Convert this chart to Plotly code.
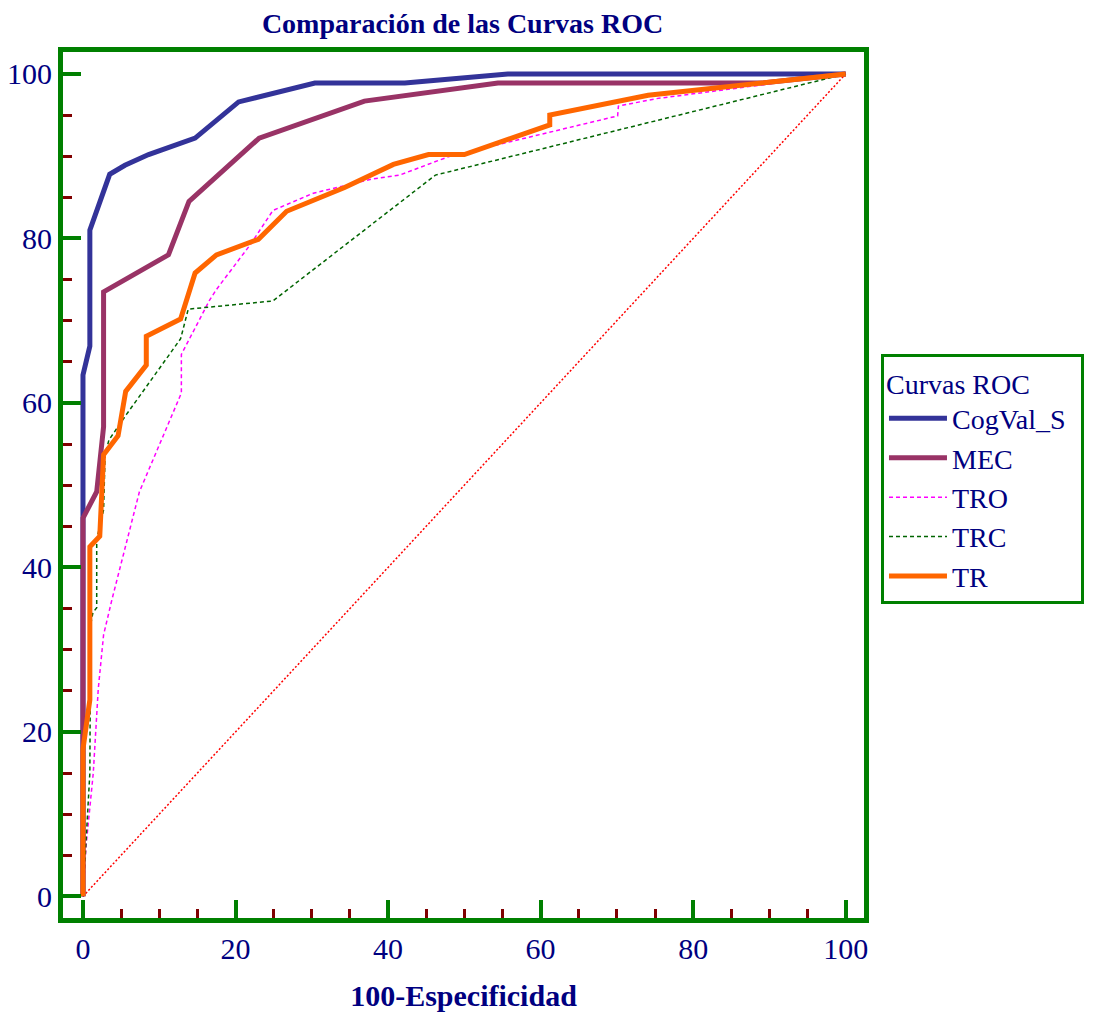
import plotly.graph_objects as go

# ROC curves: x = 100-Especificidad, y = Sensibilidad
cogval_x = [0, 0, 0, 0.9, 0.9, 3.5, 5.5, 8.6, 14.7, 20.4, 30.4, 42.2, 55.7, 100]
cogval_y = [0, 46.2, 63.4, 66.9, 81.0, 87.8, 88.9, 90.2, 92.2, 96.6, 98.9, 98.9, 100, 100]

mec_x = [0, 0, 1.8, 2.7, 2.7, 11.2, 13.9, 23.1, 36.9, 54.4, 89, 100]
mec_y = [0, 46.0, 49.2, 57.1, 73.5, 78.0, 84.5, 92.2, 96.7, 98.9, 98.9, 100]

tro_x = [0, 0.4, 1.35, 2.0, 2.7, 3.8, 7.4, 12.9, 12.9, 16.6, 17.5, 21.9, 24.9, 30.2,
         37.8, 41.5, 48.1, 55.6, 70.1, 70.2, 75.2, 100]
tro_y = [0, 6.1, 15.0, 25.2, 31.8, 36.1, 49.2, 61.2, 65.9, 72.5, 73.8, 79.2, 83.4, 85.5,
         87.2, 87.7, 90.0, 91.7, 94.9, 96.1, 97.0, 100]

trc_x = [0, 0.5, 0.9, 1.0, 1.3, 1.8, 1.8, 2.7, 2.9, 3.4, 5.7, 12.8, 13.8, 24.9, 46.2, 100]
trc_y = [0, 8.5, 15.0, 33.0, 34.5, 35.1, 43.4, 47.0, 53.7, 55.5, 58.6, 67.8, 71.4, 72.4, 87.7, 100]

tr_x = [0, 0, 0.9, 0.9, 2.2, 2.7, 4.6, 5.5, 5.6, 8.3, 8.3, 12.8, 13.8, 14.7, 17.5, 23.0,
        26.7, 34.3, 40.7, 45.3, 50.0, 61.2, 61.2, 74.1, 100]
tr_y = [0, 17.9, 23.9, 42.5, 43.8, 53.7, 56.0, 60.4, 61.4, 64.6, 68.1, 70.2, 73.3, 75.8, 78.0, 79.9,
        83.3, 86.2, 89.0, 90.2, 90.2, 93.8, 95.0, 97.4, 100]

diag_x = [0, 100]
diag_y = [0, 100]

tick_vals = [0, 20, 40, 60, 80, 100]

navy = "#000080"
green = "#008000"
font = "Liberation Serif"

fig = go.Figure()
fig.add_trace(go.Scatter(x=diag_x, y=diag_y, mode="lines", showlegend=False,
                         line=dict(color="#FF0000", width=1.5, dash="2px,2px")))
fig.add_trace(go.Scatter(x=cogval_x, y=cogval_y, mode="lines", name="CogVal_S",
                         line=dict(color="#333399", width=5)))
fig.add_trace(go.Scatter(x=mec_x, y=mec_y, mode="lines", name="MEC",
                         line=dict(color="#993366", width=5)))
fig.add_trace(go.Scatter(x=tro_x, y=tro_y, mode="lines", name="TRO",
                         line=dict(color="#FF00FF", width=1.5, dash="4px,3px")))
fig.add_trace(go.Scatter(x=trc_x, y=trc_y, mode="lines", name="TRC",
                         line=dict(color="#006400", width=1.5, dash="4px,3px")))
fig.add_trace(go.Scatter(x=tr_x, y=tr_y, mode="lines", name="TR",
                         line=dict(color="#FF6600", width=5)))

axis_style = dict(
    tickvals=tick_vals,
    ticks="inside", ticklen=18, tickwidth=4, tickcolor=green,
    minor=dict(dtick=5, ticks="inside", ticklen=9, tickwidth=3, tickcolor="#800000"),
    showline=True, linecolor=green, linewidth=5, mirror=True,
    showgrid=False, zeroline=False, automargin=False,
    tickfont=dict(family=font, size=30, color=navy),
)

fig.update_xaxes(range=[-2.62, 102.4], **axis_style,
                 title=dict(text="<b>100-Especificidad</b>", standoff=22,
                            font=dict(family=font, size=30, color=navy)))
fig.update_yaxes(range=[-2.63, 102.67], **axis_style)

# the page body adds an 8px offset, so margins are shifted to compensate
fig.update_layout(
    width=1094, height=1015,
    margin=dict(l=55, r=238, t=44, b=105),
    plot_bgcolor="white", paper_bgcolor="white",
    title=dict(text="<b>Comparación de las Curvas ROC</b>", x=0.4155, xanchor="center",
               y=0.995, yanchor="top",
               font=dict(family=font, size=28, color=navy)),
    legend=dict(
        # trailing no-break spaces widen the legend box like the reference
        title=dict(text="Curvas ROC" + "\u00a0" * 7,
                   font=dict(family=font, size=28, color=navy)),
        font=dict(family=font, size=28, color=navy),
        x=1.0212, xanchor="left", y=0.651, yanchor="top",
        bgcolor="white", bordercolor=green, borderwidth=3,
        itemwidth=58, tracegroupgap=0,
    ),
)

fig.write_html("out.html")
